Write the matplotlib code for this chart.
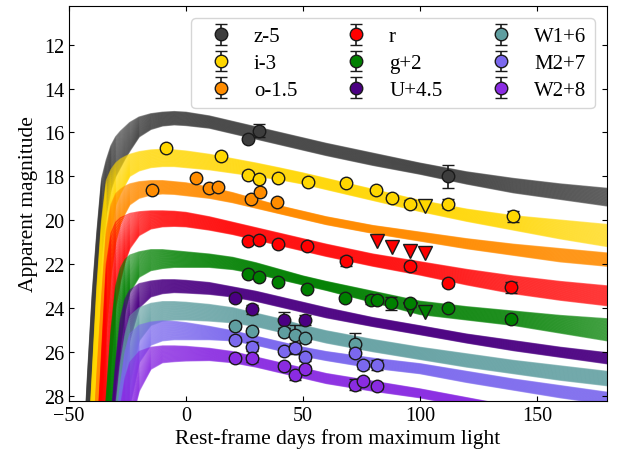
import numpy as np
import matplotlib
matplotlib.use('Agg')
import matplotlib.pyplot as plt

plt.rcParams['font.family'] = ['Liberation Serif', 'DejaVu Serif']
plt.rcParams['axes.unicode_minus'] = True

# model band edges (early/bright edge and late/faint edge)
days = [-50, -45, -42, -40, -38, -36, -34, -32, -30, -28, -26, -24, -20, -15, -10,
        -5, 0, 10, 20, 30, 40, 50, 60, 80, 100, 120, 140, 160, 180]

z_top = [40, 33, 27, 23.3, 20.5, 18.1, 17.25, 16.6, 16.2, 15.95, 15.75, 15.55, 15.3, 15.15, 15.08,
         15.05, 15.08, 15.25, 15.5, 15.75, 16.0, 16.25, 16.5, 16.95, 17.4, 17.8, 18.1, 18.35, 18.55]
z_bot = [45, 38, 31, 27.5, 24, 21.5, 19.7, 18.6, 18.0, 17.6, 17.2, 16.85, 16.2, 15.86, 15.7,
         15.65, 15.68, 15.8, 16.05, 16.3, 16.55, 16.8, 17.05, 17.5, 17.9, 18.35, 18.75, 19.05, 19.35]
i_top = [42, 36, 31, 27, 23, 20, 18.2, 17.7, 17.4, 17.22, 17.1, 17.0, 16.88, 16.8, 16.77,
         16.8, 16.85, 17.0, 17.2, 17.4, 17.62, 17.85, 18.1, 18.6, 19.1, 19.5, 19.8, 20.0, 20.2]
i_bot = [48, 40, 35, 31, 28, 25, 22.5, 20.5, 19.3, 18.8, 18.4, 18.0, 17.75, 17.6, 17.55,
         17.55, 17.6, 17.7, 17.85, 18.0, 18.15, 18.35, 18.6, 19.1, 19.6, 20.05, 20.45, 20.85, 21.2]
o_top = [44, 38, 34, 31, 27, 23.5, 20.5, 19.3, 18.8, 18.6, 18.45, 18.35, 18.25, 18.2, 18.2,
         18.25, 18.3, 18.5, 18.75, 19.05, 19.35, 19.6, 19.85, 20.25, 20.55, 20.85, 21.1, 21.3, 21.5]
o_bot = [50, 42, 37, 34, 31, 28, 25, 22.5, 21, 20.2, 19.7, 19.3, 19.0, 18.85, 18.8,
         18.82, 18.88, 19.0, 19.2, 19.45, 19.7, 19.95, 20.2, 20.6, 20.95, 21.3, 21.6, 21.9, 22.1]
r_top = [46, 40, 37, 33, 30, 26, 22, 20.6, 20.1, 19.9, 19.8, 19.7, 19.62, 19.58, 19.58,
         19.6, 19.65, 19.85, 20.1, 20.35, 20.6, 20.85, 21.1, 21.55, 21.9, 22.25, 22.55, 22.8, 23.0]
r_bot = [52, 44, 40, 37, 34, 32, 29, 26.5, 24, 22.8, 21.9, 21.3, 20.7, 20.4, 20.3,
         20.28, 20.3, 20.45, 20.65, 20.9, 21.15, 21.4, 21.65, 22.1, 22.5, 22.95, 23.35, 23.65, 23.9]
g_top = [48, 42, 39, 36, 33, 31, 28, 25, 23.0, 22.2, 21.8, 21.6, 21.45, 21.35, 21.35,
         21.4, 21.45, 21.55, 21.7, 21.95, 22.25, 22.55, 22.8, 23.25, 23.7, 23.95, 24.15, 24.35, 24.5]
g_bot = [54, 46, 42, 39, 37, 35, 33, 30, 27.5, 25.8, 24.2, 23.3, 22.6, 22.3, 22.2,
         22.15, 22.15, 22.15, 22.25, 22.45, 22.7, 22.95, 23.2, 23.75, 24.3, 24.55, 24.8, 25.15, 25.5]
U_top = [50, 44, 41, 39, 37, 34, 32, 29, 26.5, 24.5, 23.6, 23.2, 22.9, 22.78, 22.72,
         22.72, 22.75, 22.85, 23.05, 23.25, 23.5, 23.75, 24.0, 24.45, 24.82, 25.2, 25.5, 25.8, 26.05]
U_bot = [56, 48, 44, 42, 40, 38, 36, 34, 32, 29.5, 27, 25.5, 24.0, 23.5, 23.35,
         23.3, 23.32, 23.38, 23.5, 23.7, 23.95, 24.2, 24.45, 24.85, 25.22, 25.6, 25.95, 26.25, 26.55]
W1_top = [52, 46, 43, 41, 38, 36, 34, 31, 28.5, 26.5, 25.2, 24.4, 24.0, 23.8, 23.72,
          23.72, 23.75, 23.85, 24.0, 24.25, 24.5, 24.8, 25.05, 25.45, 25.8, 26.1, 26.4, 26.65, 26.9]
W1_bot = [58, 50, 46, 44, 42, 40, 38, 35, 33, 31.5, 29.5, 27.5, 25.5, 24.8, 24.6,
          24.55, 24.55, 24.6, 24.68, 24.85, 25.1, 25.35, 25.6, 26.0, 26.35, 26.7, 27.0, 27.3, 27.55]
M2_top = [53, 47, 44, 42, 39, 37, 35, 32, 29.5, 27.5, 26.0, 25.2, 24.8, 24.65, 24.6,
          24.62, 24.68, 24.85, 25.05, 25.3, 25.55, 25.8, 26.0, 26.3, 26.55, 26.9, 27.25, 27.55, 27.85]
M2_bot = [60, 52, 48, 46, 44, 42, 40, 37, 34, 32, 30, 28.5, 26.5, 25.7, 25.5,
          25.45, 25.45, 25.45, 25.5, 25.7, 25.95, 26.2, 26.4, 26.75, 27.0, 27.4, 27.75, 28.1, 28.4]
W2_top = [55, 49, 46, 44, 41, 39, 37, 34, 30.5, 28.5, 27.2, 26.5, 26.0, 25.8, 25.74,
          25.74, 25.76, 25.85, 26.0, 26.25, 26.5, 26.75, 27.0, 27.35, 27.7, 28.1, 28.5, 28.9, 29.3]
W2_bot = [62, 54, 50, 48, 46, 44, 42, 39, 36.5, 34, 31, 29.5, 27.8, 26.8, 26.5,
          26.45, 26.42, 26.4, 26.5, 26.7, 26.95, 27.2, 27.45, 27.8, 28.1, 28.5, 28.9, 29.3, 29.7]

# photometry
z_day = [26.7, 31.4, 112.2]
z_mag = [16.3, 15.93, 18.0]
z_err = [0.1, 0.3, 0.52]
i_day = [-8.6, 15.1, 26.7, 31.4, 39.4, 52.0, 68.4, 81.4, 88.1, 95.9, 112.2, 140.0]
i_mag = [16.7, 17.08, 17.92, 18.11, 18.07, 18.27, 18.3, 18.64, 18.98, 19.25, 19.25, 19.83]
i_err = [0.1, 0.1, 0.1, 0.12, 0.1, 0.1, 0.1, 0.1, 0.12, 0.15, 0.2, 0.25]
o_day = [-14.3, 4.5, 9.7, 13.6, 27.7, 31.6, 38.8]
o_mag = [18.64, 18.07, 18.53, 18.48, 19.02, 18.73, 19.18]
o_err = [0.1, 0.1, 0.1, 0.1, 0.1, 0.1, 0.1]
r_day = [26.7, 31.4, 39.4, 51.7, 68.4, 95.9, 112.2, 139.0]
r_mag = [20.97, 20.89, 21.08, 21.17, 21.88, 22.11, 22.87, 23.07]
r_err = [0.1, 0.1, 0.1, 0.1, 0.2, 0.15, 0.15, 0.27]
g_day = [26.7, 31.4, 39.4, 51.7, 68.1, 79.2, 81.5, 87.7, 95.6, 112.2, 139.0]
g_mag = [22.46, 22.6, 22.8, 23.14, 23.56, 23.64, 23.64, 23.79, 23.79, 24.02, 24.51]
g_err = [0.1, 0.1, 0.1, 0.1, 0.12, 0.2, 0.15, 0.3, 0.15, 0.1, 0.12]
U_day = [21.0, 28.1, 41.8, 51.0]
U_mag = [23.56, 24.06, 24.55, 24.55]
U_err = [0.12, 0.2, 0.38, 0.22]
W1_day = [21.0, 28.1, 41.8, 46.5, 51.0, 72.2]
W1_mag = [24.83, 25.05, 25.09, 25.24, 25.39, 25.67]
W1_err = [0.15, 0.12, 0.15, 0.45, 0.15, 0.5]
M2_day = [21.0, 28.1, 41.8, 46.5, 51.0, 72.2, 75.7, 81.5]
M2_mag = [25.47, 25.78, 25.96, 25.85, 26.26, 26.05, 26.61, 26.61]
M2_err = [0.12, 0.2, 0.15, 0.25, 0.15, 0.15, 0.2, 0.22]
W2_day = [21.0, 28.1, 41.8, 46.5, 51.0, 72.2, 75.7, 81.5]
W2_mag = [26.31, 26.31, 26.65, 27.07, 26.8, 27.5, 27.33, 27.57]
W2_err = [0.12, 0.15, 0.12, 0.2, 0.15, 0.25, 0.15, 0.12]

# upper limits
i_lim_day, i_lim_mag = [102.0], [19.37]
r_lim_day, r_lim_mag = [81.5, 87.9, 95.9, 102.0], [20.97, 21.23, 21.43, 21.5]
g_lim_day, g_lim_mag = [95.9, 102.0], [24.06, 24.17]

labels = ['z-5', 'i-3', 'o-1.5', 'r', 'g+2', 'U+4.5', 'W1+6', 'M2+7', 'W2+8']
colors = ['#3d3d3d', '#ffd700', '#ff8c00', '#ff0000', '#008000', '#4b0082',
          '#5f9ea0', '#7b68ee', '#8a2be2']

tops = [z_top, i_top, o_top, r_top, g_top, U_top, W1_top, M2_top, W2_top]
bots = [z_bot, i_bot, o_bot, r_bot, g_bot, U_bot, W1_bot, M2_bot, W2_bot]
obs = [(z_day, z_mag, z_err), (i_day, i_mag, i_err), (o_day, o_mag, o_err),
       (r_day, r_mag, r_err), (g_day, g_mag, g_err), (U_day, U_mag, U_err),
       (W1_day, W1_mag, W1_err), (M2_day, M2_mag, M2_err), (W2_day, W2_mag, W2_err)]
lims = {1: (i_lim_day, i_lim_mag), 3: (r_lim_day, r_lim_mag), 4: (g_lim_day, g_lim_mag)}

fig = plt.figure(figsize=(6.17, 4.52), dpi=100)
ax = fig.add_axes([0.1118, 0.1106, 0.872, 0.874])

d = np.array(days)
fracs = np.linspace(0, 1, 30)
for top, bot, c in zip(tops, bots, colors):
    top, bot = np.array(top), np.array(bot)
    for f in fracs:
        ax.plot(d, top + f * (bot - top), color=c, lw=1.0, alpha=0.55, zorder=1)

for k, ((x, y, e), c, lab) in enumerate(zip(obs, colors, labels)):
    ax.errorbar(x, y, yerr=e, fmt='o', ms=9, mfc=c, mec='#1a1a1a', mew=1.0,
                ecolor='#1a1a1a', elinewidth=1.2, capsize=4, capthick=1.2,
                label=lab, zorder=5)
    if k in lims:
        ax.plot(lims[k][0], lims[k][1], 'v', ms=10, mfc=c, mec='#1a1a1a', mew=1.0,
                ls='none', zorder=5)

ax.set_xlim(-50, 180)
ax.set_ylim(28.25, 10.23)
ax.set_xticks([-50, 0, 50, 100, 150])
ax.set_yticks([12, 14, 16, 18, 20, 22, 24, 26, 28])
ax.tick_params(direction='in', top=True, right=True, labelsize=14.5)
ax.set_xlabel('Rest-frame days from maximum light', fontsize=15.5, labelpad=2)
ax.set_ylabel('Apparent magnitude', fontsize=15.5)
ax.legend(loc='upper right', ncol=3, fontsize=15, handletextpad=0.6,
          columnspacing=1.8, labelspacing=0.35, borderaxespad=0.6)

fig.savefig('out.png', dpi=100)
